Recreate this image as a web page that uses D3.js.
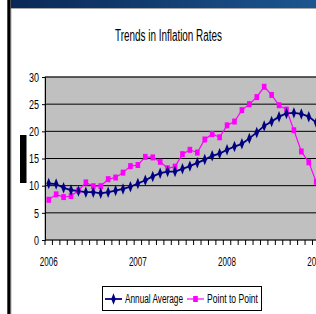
<!DOCTYPE html>
<html><head><meta charset="utf-8">
<script src="https://cdn.jsdelivr.net/npm/d3@7/dist/d3.min.js"></script>
<style>
html,body{margin:0;padding:0;background:#fff;overflow:hidden;}
svg{display:block;}
text{font-family:"Liberation Sans","Arial",sans-serif;}
</style></head>
<body><svg id="c" width="316" height="314"></svg>
<script>
const title = "Trends in Inflation Rates";
const categories = ["2006-01","2006-02","2006-03","2006-04","2006-05","2006-06","2006-07","2006-08","2006-09","2006-10","2006-11","2006-12",
"2007-01","2007-02","2007-03","2007-04","2007-05","2007-06","2007-07","2007-08","2007-09","2007-10","2007-11","2007-12",
"2008-01","2008-02","2008-03","2008-04","2008-05","2008-06","2008-07","2008-08","2008-09","2008-10","2008-11","2008-12","2009-01"];
const annualAverage = [10.4,10.3,9.6,9.2,9.0,8.8,8.8,8.6,8.8,9.1,9.4,9.8,
10.4,11.0,11.7,12.3,12.6,12.6,13.1,13.6,14.2,14.8,15.5,15.9,
16.6,17.2,17.7,18.7,19.8,21.0,21.8,22.7,23.3,23.4,23.2,22.7,21.6];
const pointToPoint = [7.4,8.4,7.9,8.1,9.1,10.6,9.9,9.9,11.2,11.5,12.4,13.6,
13.8,15.3,15.2,14.4,13.2,13.5,15.8,16.6,16.1,18.5,19.5,18.9,
21.1,21.8,23.9,25.0,26.3,28.2,26.7,24.8,24.0,20.2,16.3,14.3,10.7];
const yTicks = [0,5,10,15,20,25,30];
const xTickLabels = [{cat:"2006-01",label:"2006"},{cat:"2007-01",label:"2007"},{cat:"2008-01",label:"2008"},{cat:"2009-01",label:"2009"}];
const seriesNames = ["Annual Average","Point to Point"];

(function(){
const svg = d3.select("#c");
const defs = svg.append("defs");
const g = defs.append("linearGradient").attr("id","band").attr("x1","0").attr("x2","1");
g.append("stop").attr("offset","0").attr("stop-color","#0a2856");
g.append("stop").attr("offset","1").attr("stop-color","#1c5690");

// frame decoration
svg.append("rect").attr("x",11).attr("y",0).attr("width",305).attr("height",8).attr("fill","url(#band)");
svg.append("rect").attr("x",11).attr("y",8).attr("width",305).attr("height",1).attr("fill","#a8a8a8");
svg.append("rect").attr("x",7.3).attr("y",0).attr("width",3.4).attr("height",314).attr("fill","#000");
svg.append("rect").attr("x",10.7).attr("y",9).attr("width",0.8).attr("height",305).attr("fill","#b0b0b0");
svg.append("rect").attr("x",20).attr("y",135).attr("width",6.5).attr("height",48).attr("fill","#000");

const pLeft = 45, pTop = 77, pBottom = 240, bw = 7.43;
const x = d3.scaleBand().domain(categories).range([pLeft, pLeft + categories.length*bw]).padding(0);
const y = d3.scaleLinear().domain([0,30]).range([pBottom, pTop]);
const cx = d => x(d) + x.bandwidth()/2;

svg.append("text").attr("x",115).attr("y",40.5)
  .attr("font-size",16).attr("fill","#000")
  .attr("textLength",107).attr("lengthAdjust","spacingAndGlyphs").text(title);

// plot area
svg.append("rect").attr("x",pLeft).attr("y",pTop).attr("width",x.range()[1]-pLeft).attr("height",pBottom-pTop)
  .attr("fill","#c0c0c0").attr("stroke","#808080").attr("stroke-width",1);

// gridlines
svg.append("g").selectAll("line").data(yTicks.filter(v=>v>0)).join("line")
  .attr("x1",pLeft).attr("x2",x.range()[1]).attr("y1",d=>y(d)).attr("y2",d=>y(d))
  .attr("stroke","#000").attr("stroke-width",1);

// y axis
const yAxis = d3.axisLeft(y).tickValues(yTicks).tickSize(3).tickPadding(3).tickFormat(d3.format("d"));
const ya = svg.append("g").attr("transform",`translate(${pLeft},0)`).call(yAxis);
ya.attr("font-family",null);
ya.select(".domain").attr("stroke","#000");
ya.selectAll("text").attr("font-size",12).attr("fill","#000").attr("dy","0.36em")
  .attr("textLength",d=>String(d).length*5).attr("lengthAdjust","spacingAndGlyphs");
ya.selectAll("line").attr("stroke","#000");

// x axis: ticks between categories
const xa = svg.append("g");
xa.append("line").attr("x1",pLeft).attr("x2",x.range()[1]).attr("y1",pBottom).attr("y2",pBottom).attr("stroke","#000");
xa.selectAll("line.t").data(categories).join("line").attr("class","t")
  .attr("x1",d=>x(d)).attr("x2",d=>x(d)).attr("y1",pBottom).attr("y2",pBottom+5).attr("stroke","#000");
xa.selectAll("text").data(xTickLabels).join("text")
  .attr("x",d=>cx(d.cat)-9).attr("y",265.5).attr("font-size",12).attr("fill","#000")
  .attr("textLength",18).attr("lengthAdjust","spacingAndGlyphs")
  .text(d=>d.label);

const navy = "#000080", pink = "#ff00ff";
const line = d3.line().x((d,i)=>cx(categories[i])).y(d=>y(d));

svg.append("path").datum(pointToPoint).attr("d",line).attr("fill","none").attr("stroke",pink).attr("stroke-width",1.2);
svg.append("path").datum(annualAverage).attr("d",line).attr("fill","none").attr("stroke",navy).attr("stroke-width",1.8);

const diamond = d3.symbol(d3.symbolDiamond).size(18);
svg.append("g").selectAll("rect").data(pointToPoint).join("rect")
  .attr("x",(d,i)=>cx(categories[i])-2.3).attr("y",d=>y(d)-3).attr("width",4.6).attr("height",6).attr("fill",pink);
svg.append("g").selectAll("path").data(annualAverage).join("path")
  .attr("d",diamond).attr("transform",(d,i)=>`translate(${cx(categories[i])},${y(d)}) scale(1,1.45)`).attr("fill",navy);

// legend
const lg = svg.append("g");
lg.append("rect").attr("x",102.5).attr("y",286.5).attr("width",159).attr("height",24).attr("fill","#fff").attr("stroke","#000");
lg.append("line").attr("x1",105).attr("x2",122).attr("y1",299).attr("y2",299).attr("stroke",navy).attr("stroke-width",1.8);
lg.append("path").attr("d",diamond).attr("transform","translate(113.5,299) scale(1,1.45)").attr("fill",navy);
lg.append("text").attr("x",125).attr("y",303).attr("font-size",12.5).attr("fill","#000")
  .attr("textLength",58).attr("lengthAdjust","spacingAndGlyphs").text(seriesNames[0]);
lg.append("line").attr("x1",187).attr("x2",204).attr("y1",299).attr("y2",299).attr("stroke",pink).attr("stroke-width",1.2);
lg.append("rect").attr("x",193.2).attr("y",296).attr("width",4.6).attr("height",6).attr("fill",pink);
lg.append("text").attr("x",207).attr("y",303).attr("font-size",12.5).attr("fill","#000")
  .attr("textLength",51).attr("lengthAdjust","spacingAndGlyphs").text(seriesNames[1]);
})();
</script></body></html>
